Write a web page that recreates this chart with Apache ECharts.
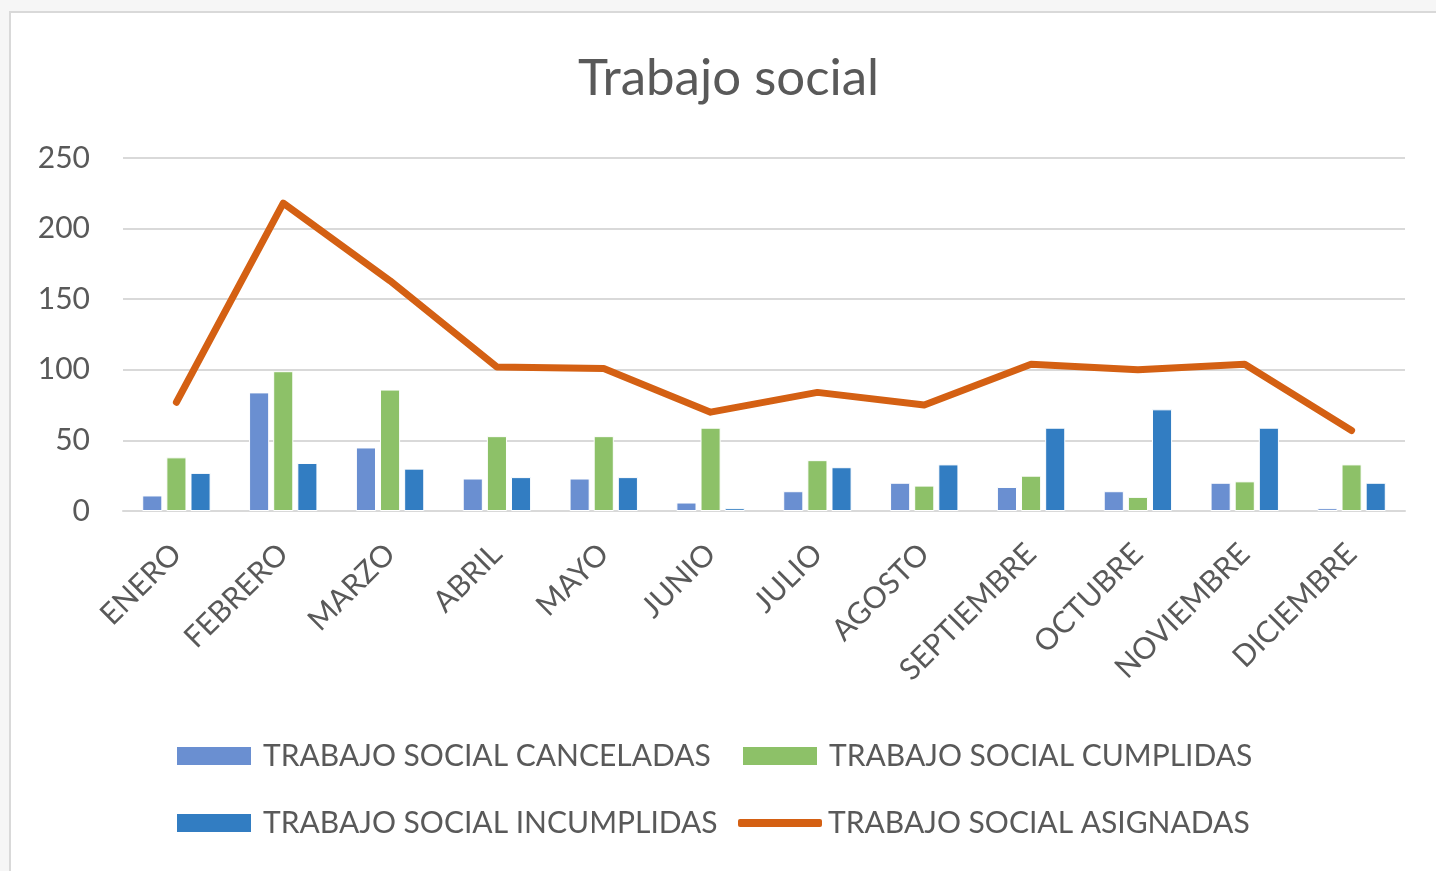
<!DOCTYPE html>
<html>
<head>
<meta charset="utf-8">
<script src="https://cdn.jsdelivr.net/npm/echarts@6/dist/echarts.min.js"></script>
<style>
  html, body { margin: 0; padding: 0; width: 1436px; height: 871px; background: #f6f6f6; overflow: hidden; }
  #card { position: absolute; left: 9px; top: 11px; width: 1440px; height: 880px; background: #ffffff; border: 2px solid #d9d9d9; box-sizing: border-box; }
  #chart { position: absolute; left: 0; top: 0; width: 1436px; height: 871px; }
</style>
</head>
<body>
<div id="card"></div>
<div id="chart"></div>
<script>
const months = ['ENERO','FEBRERO','MARZO','ABRIL','MAYO','JUNIO','JULIO','AGOSTO','SEPTIEMBRE','OCTUBRE','NOVIEMBRE','DICIEMBRE'];
const canceladas   = [11, 84, 45, 23, 23, 6, 14, 20, 17, 14, 20, 2];
const cumplidas    = [38, 99, 86, 53, 53, 59, 36, 18, 25, 10, 21, 33];
const incumplidas  = [27, 34, 30, 24, 24, 2, 31, 33, 59, 72, 59, 20];
const asignadas    = [77, 218, 163, 102, 101, 70, 84, 75, 104, 100, 104, 57];
const yTicks = [0, 50, 100, 150, 200, 250];

const names = ['TRABAJO SOCIAL CANCELADAS','TRABAJO SOCIAL CUMPLIDAS','TRABAJO SOCIAL INCUMPLIDAS','TRABAJO SOCIAL ASIGNADAS'];
const colors = ['#6a8fd1', '#8dc168', '#327dc2', '#d46013'];
const font = 'Lato, "Open Sans", sans-serif';
const textColor = '#595959';

const chart = echarts.init(document.getElementById('chart'), null, { renderer: 'canvas' });
const legendCommon = {
  itemWidth: 76, itemHeight: 20, itemGap: 10, padding: 0,
  textStyle: { fontFamily: font, fontSize: 30, color: textColor, padding: [0,0,0,6] },
  icon: 'rect'
};
chart.setOption({
  animation: false,
  color: colors,
  title: {
    text: 'Trabajo social', left: 578, top: 53, padding: 0,
    textStyle: { fontFamily: font, fontSize: 51, fontWeight: 'normal', color: textColor }
  },
  grid: { left: 123, right: 31, top: 158, bottom: 360, containLabel: false },
  legend: [
    Object.assign({}, legendCommon, { data: [names[0]], left: 175, top: 741 }),
    Object.assign({}, legendCommon, { data: [names[1]], left: 741, top: 741 }),
    Object.assign({}, legendCommon, { data: [names[2]], left: 175, top: 808 }),
    Object.assign({}, legendCommon, { data: [{ name: names[3], icon: 'roundRect' }], left: 738, top: 808, itemWidth: 84, itemHeight: 8,
      textStyle: Object.assign({}, legendCommon.textStyle, { padding: [0,0,0,1] }) })
  ],
  xAxis: {
    type: 'category', data: months,
    axisLine: { show: true, lineStyle: { color: '#d9d9d9', width: 2 } },
    axisTick: { show: false },
    axisLabel: { rotate: 45, fontFamily: font, fontSize: 30, color: textColor, margin: 38, interval: 0 }
  },
  yAxis: {
    type: 'value', min: 0, max: 250, interval: 50,
    axisLine: { show: false }, axisTick: { show: false },
    axisLabel: { fontFamily: font, fontSize: 30, color: textColor, margin: 33,
      formatter: v => yTicks.includes(v) ? String(v) : '' },
    splitLine: { lineStyle: { color: '#d9d9d9', width: 2 } }
  },
  series: [
    { name: names[0], type: 'bar', data: canceladas, barGap: '20%', barCategoryGap: '36%',
      itemStyle: { color: colors[0], borderColor: '#ffffff', borderWidth: 1 } },
    { name: names[1], type: 'bar', data: cumplidas,
      itemStyle: { color: colors[1], borderColor: '#ffffff', borderWidth: 1 } },
    { name: names[2], type: 'bar', data: incumplidas,
      itemStyle: { color: colors[2], borderColor: '#ffffff', borderWidth: 1 } },
    { name: names[3], type: 'line', data: asignadas, symbol: 'none',
      lineStyle: { color: colors[3], width: 7, cap: 'round', join: 'round' },
      itemStyle: { color: colors[3] }, z: 5 }
  ]
});
</script>
</body>
</html>
